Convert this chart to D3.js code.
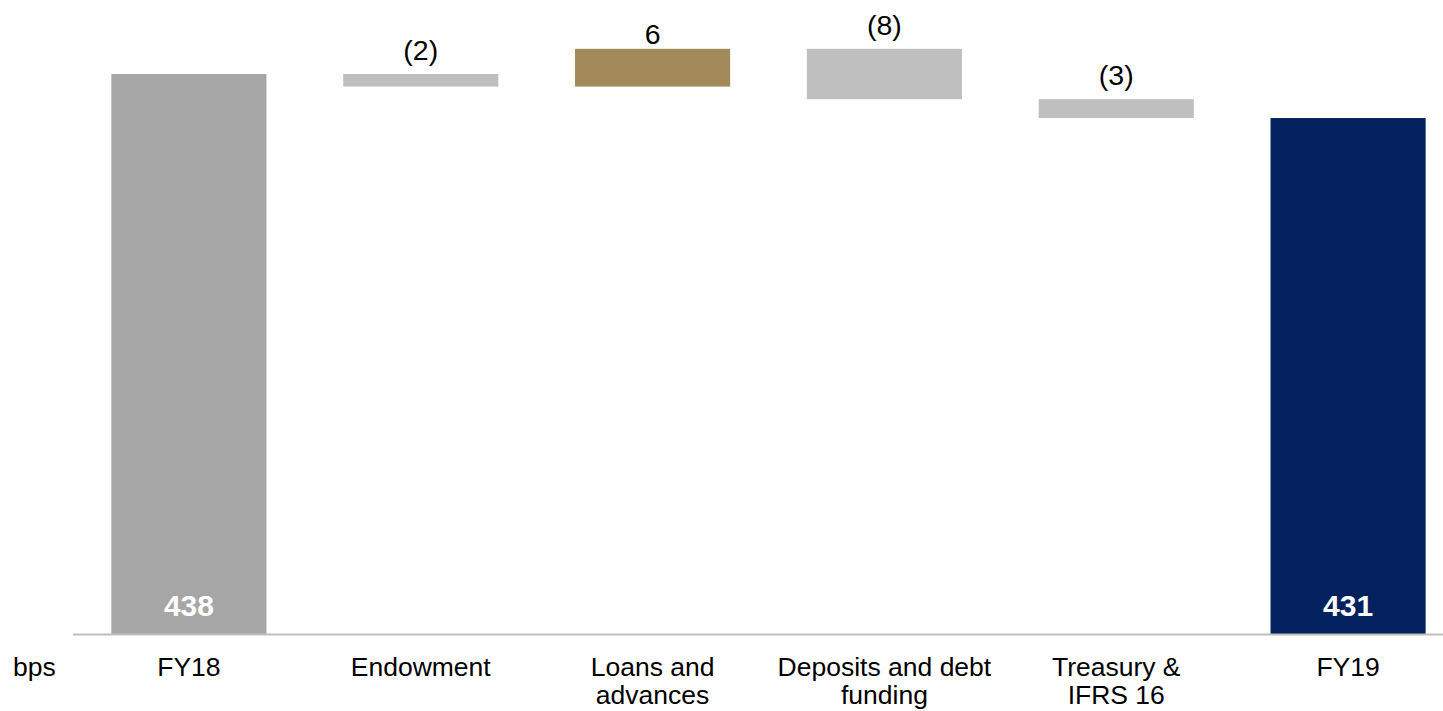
<!DOCTYPE html>
<html>
<head>
<meta charset="utf-8">
<script src="https://cdn.jsdelivr.net/npm/d3@7"></script>
<style>
  html, body { margin: 0; padding: 0; background: #fff; }
  svg { display: block; font-family: "Liberation Sans", Arial, sans-serif; }
</style>
</head>
<body>
<svg id="chart" width="1443" height="711"></svg>
<script>
// ---- data ----
const categories = ["FY18", "Endowment", "Loans and advances", "Deposits and debt funding", "Treasury & IFRS 16", "FY19"];
const categoryLines = [["FY18"], ["Endowment"], ["Loans and", "advances"], ["Deposits and debt", "funding"], ["Treasury &", "IFRS 16"], ["FY19"]];
const kinds = ["total", "delta", "delta", "delta", "delta", "total"];
const values = [438, -2, 6, -8, -3, 431];
const unitLabel = "bps";

// ---- build waterfall ----
let running = 0;
const bars = categories.map((c, i) => {
  let y0, y1;
  if (kinds[i] === "total") { y0 = null; y1 = values[i]; running = values[i]; }
  else { y0 = running; y1 = running + values[i]; running = y1; }
  return { cat: c, kind: kinds[i], value: values[i], y0, y1, lines: categoryLines[i] };
});

const svg = d3.select("#chart");
const x = d3.scaleBand().domain(categories).range([73, 1464]).paddingInner(0.331).paddingOuter(0.1655);
const y = d3.scaleLinear().domain([349, 438]).range([634, 74]);

const colorFor = d => {
  if (d.kind === "total") return d.cat === "FY19" ? "#03215f" : "#a6a6a6";
  return d.value >= 0 ? "#a28a5b" : "#bfbfbf";
};

svg.selectAll("rect.bar").data(bars).enter().append("rect")
  .attr("class", "bar")
  .attr("x", d => x(d.cat))
  .attr("width", x.bandwidth())
  .attr("y", d => d.kind === "total" ? y(d.y1) : y(Math.max(d.y0, d.y1)))
  .attr("height", d => d.kind === "total" ? y.range()[0] - y(d.y1) : Math.abs(y(d.y0) - y(d.y1)))
  .attr("fill", colorFor);

// baseline
svg.append("line")
  .attr("x1", 73).attr("x2", 1443)
  .attr("y1", 634.5).attr("y2", 634.5)
  .attr("stroke", "#bfbfbf").attr("stroke-width", 2);

// total labels inside bars
svg.selectAll("text.total").data(bars.filter(d => d.kind === "total")).enter().append("text")
  .attr("class", "total")
  .attr("x", d => x(d.cat) + x.bandwidth() / 2)
  .attr("y", 615.5)
  .attr("text-anchor", "middle")
  .attr("font-size", 30).attr("font-weight", "bold")
  .attr("fill", "#ffffff")
  .text(d => d.value);

// delta labels above bars
svg.selectAll("text.delta").data(bars.filter(d => d.kind === "delta")).enter().append("text")
  .attr("class", "delta")
  .attr("x", d => x(d.cat) + x.bandwidth() / 2)
  .attr("y", d => y(Math.max(d.y0, d.y1)) - (d.value < 0 ? 14 : 4.5))
  .attr("text-anchor", "middle")
  .attr("font-size", 28.5)
  .attr("fill", "#000")
  .text(d => d.value < 0 ? "(" + Math.abs(d.value) + ")" : String(d.value));

// category labels
const cl = svg.selectAll("text.cat").data(bars).enter().append("text")
  .attr("class", "cat")
  .attr("x", d => x(d.cat) + x.bandwidth() / 2)
  .attr("y", 676)
  .attr("text-anchor", "middle")
  .attr("font-size", 26.5)
  .attr("fill", "#000");
cl.selectAll("tspan").data(d => d.lines.map(l => ({ l, cx: x(d.cat) + x.bandwidth() / 2 }))).enter().append("tspan")
  .attr("x", t => t.cx)
  .attr("dy", (t, i) => i === 0 ? 0 : 28)
  .text(t => t.l);

// unit label
svg.append("text")
  .attr("x", 13).attr("y", 676)
  .attr("font-size", 26.5).attr("fill", "#000")
  .text(unitLabel);
</script>
</body>
</html>
